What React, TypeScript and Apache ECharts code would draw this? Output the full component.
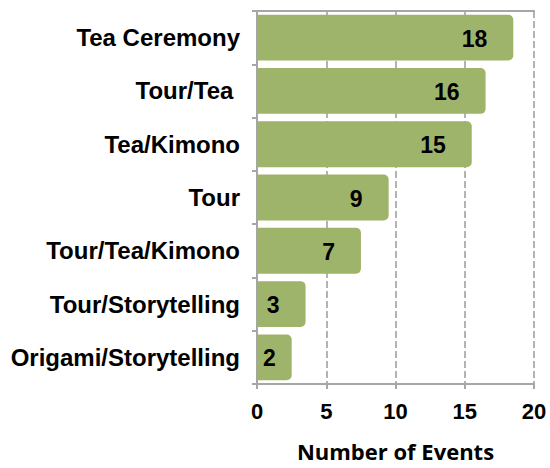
import React, { useEffect, useRef } from "react";
import * as echarts from "echarts";

const categories = [
  "Tea Ceremony",
  "Tour/Tea ",
  "Tea/Kimono",
  "Tour",
  "Tour/Tea/Kimono",
  "Tour/Storytelling",
  "Origami/Storytelling",
];
const values = [18, 16, 15, 9, 7, 3, 2];
const xMin = 0;
const xMax = 20;
const xInterval = 5;
const axisTitle = "Number of Events";

export default function App() {
  const ref = useRef<HTMLDivElement>(null);
  useEffect(() => {
    const chart = echarts.init(ref.current!, null, { renderer: "svg" });
    const barColor = "#9fb46b";
    const axisColor = "#a6a6a6";
    const labelFont = '"Liberation Sans", Arial, sans-serif';
    const axisLineStyle = { color: axisColor, width: 2 };
    const option = {
      animation: false,
      grid: {
        left: 257,
        right: 16,
        top: 11,
        bottom: 84,
        containLabel: false,
        outerBoundsMode: "none",
      },
      xAxis: [
        {
          type: "value",
          min: xMin,
          max: xMax,
          interval: xInterval,
          position: "bottom",
          axisLine: { show: true, lineStyle: axisLineStyle },
          axisTick: { show: true, length: 5, lineStyle: axisLineStyle },
          axisLabel: {
            fontFamily: labelFont,
            fontWeight: "bold",
            fontSize: 22,
            color: "#000",
            margin: 16,
          },
          splitLine: {
            show: true,
            lineStyle: { color: "#9a9a9a", type: [7, 3], width: 1.5 },
          },
          name: axisTitle,
          nameLocation: "middle",
          nameGap: 57,
          nameTextStyle: {
            fontFamily: '"Open Sans", sans-serif',
            fontWeight: "bold",
            fontSize: 22,
            lineHeight: 20,
            color: "#000",
          },
        },
        {
          type: "value",
          min: xMin,
          max: xMax,
          interval: xInterval,
          position: "top",
          axisLine: { show: true, lineStyle: axisLineStyle },
          axisTick: { show: false },
          axisLabel: { show: false },
          splitLine: { show: false },
        },
      ],
      yAxis: {
        type: "category",
        data: categories,
        inverse: true,
        axisLine: { show: true, lineStyle: axisLineStyle },
        axisTick: { show: true, length: 5, lineStyle: axisLineStyle },
        axisLabel: {
          fontFamily: labelFont,
          fontWeight: "bold",
          fontSize: 24,
          color: "#000",
          margin: 17,
        },
        splitLine: { show: false },
      },
      series: [
        {
          type: "custom",
          xAxisIndex: 0,
          yAxisIndex: 0,
          data: values.map((v, i) => [v, i]),
          encode: { x: 0, y: 1 },
          renderItem: (params: any, api: any) => {
            const v = api.value(0);
            const idx = api.value(1);
            const start = api.coord([0, idx]);
            const end = api.coord([v, idx]);
            const band = api.size([0, 1])[1];
            const h = band * 0.86;
            const ext = 7;
            const x0 = start[0];
            const x1 = end[0] + ext;
            const label = String(v);
            const tw = label.length * 12.8;
            let tx: number;
            let align: string;
            if (x1 - 26 - tw >= x0 + 5) {
              tx = x1 - 26;
              align = "right";
            } else {
              tx = x0 + 6;
              align = "left";
            }
            return {
              type: "group",
              children: [
                {
                  type: "rect",
                  shape: { x: x0, y: end[1] - h / 2, width: x1 - x0, height: h, r: [0, 5, 5, 0] },
                  style: { fill: barColor },
                },
                {
                  type: "text",
                  style: {
                    text: label,
                    x: tx,
                    y: end[1] + 1,
                    align,
                    verticalAlign: "middle",
                    fontFamily: labelFont,
                    fontWeight: "bold",
                    fontSize: 23,
                    fill: "#000",
                  },
                },
              ],
            };
          },
        },
      ],
    };
    chart.setOption(option as any);
    return () => chart.dispose();
  }, []);
  return (
    <div
      ref={ref}
      style={{ position: "absolute", left: 0, top: 0, width: 550, height: 468 }}
    />
  );
}
